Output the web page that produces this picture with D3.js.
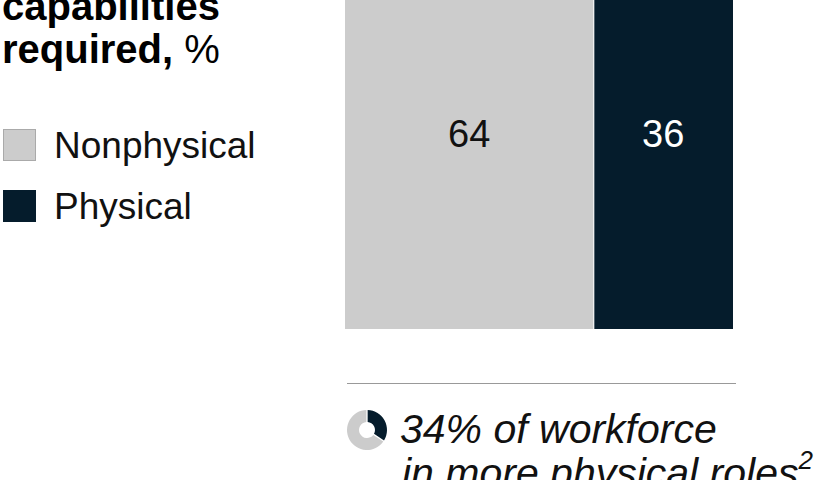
<!DOCTYPE html>
<html>
<head>
<meta charset="utf-8">
<script src="https://cdn.jsdelivr.net/npm/d3@7"></script>
<style>
  body { margin: 0; background: #fff; }
  svg { display: block; font-family: "Liberation Sans", Arial, sans-serif; }
</style>
</head>
<body>
<div id="plot"></div>
<script>
// data
const categories = ["Nonphysical", "Physical"];
const values = [64, 36];
const workforceShare = [34, 66];   // physical, other
const titleLines = ["capabilities", "required,"];
const noteLines = ["34% of workforce", "in more physical roles"];

const w = 829, h = 480;
const colors = ["#cccccc", "#051c2c"];
const colorScale = d3.scaleOrdinal().domain(categories).range(colors);

const svg = d3.select("div#plot")
  .append("svg")
  .attr("width", w)
  .attr("height", h);

// title
const title = svg.append("g").attr("id", "title");
title.append("text")
  .attr("x", 2).attr("y", 20)
  .attr("font-size", 40).attr("font-weight", "bold")
  .text(titleLines[0]);
const t2 = title.append("text")
  .attr("x", 2).attr("y", 63)
  .attr("font-size", 40);
t2.append("tspan").attr("font-weight", "bold").text(titleLines[1]);
t2.append("tspan").text(" %");

// legend
const legend = svg.append("g").attr("id", "legend")
  .selectAll("g")
  .data(categories)
  .enter()
  .append("g")
  .attr("transform", (d, i) => `translate(3, ${129 + i * 61})`);

legend.append("rect")
  .attr("x", 0.5).attr("y", 0.5)
  .attr("width", 32).attr("height", 31)
  .attr("fill", d => colorScale(d))
  .attr("stroke", (d, i) => i == 0 ? "#aaaaaa" : colorScale(d));

legend.append("text")
  .attr("x", 51).attr("y", 29)
  .attr("font-size", 37)
  .attr("fill", "#111")
  .text(d => d);

// stacked bar
const xScale = d3.scaleLinear().domain([0, 100]).range([345, 733]);
const starts = [0, ...d3.cumsum(values)].slice(0, values.length);
const barTop = -65, barBottom = 329;

const bars = svg.append("g").attr("id", "bars")
  .selectAll("g")
  .data(values)
  .enter()
  .append("g");

bars.append("rect")
  .attr("x", (d, i) => xScale(starts[i]) + (i > 0 ? 1 : 0))
  .attr("y", barTop)
  .attr("width", (d, i) => xScale(starts[i] + d) - xScale(starts[i]) - (i > 0 ? 1 : 0))
  .attr("height", barBottom - barTop)
  .attr("fill", (d, i) => colors[i]);

bars.append("text")
  .attr("x", (d, i) => xScale(starts[i] + d / 2))
  .attr("y", 147)
  .attr("text-anchor", "middle")
  .attr("font-size", 38)
  .attr("fill", (d, i) => i == 0 ? "#111" : "#fff")
  .text(d => d);

// separator
svg.append("line")
  .attr("x1", 347).attr("x2", 736)
  .attr("y1", 383.5).attr("y2", 383.5)
  .attr("stroke", "#999")
  .attr("stroke-width", 1);

// donut
const pie = d3.pie().sort(null).padAngle(0.06);
const arc = d3.arc().innerRadius(8).outerRadius(20);
svg.append("g")
  .attr("id", "donut")
  .attr("transform", "translate(367, 430)")
  .selectAll("path")
  .data(pie(workforceShare))
  .enter()
  .append("path")
  .attr("d", arc)
  .attr("fill", (d, i) => i == 0 ? colors[1] : colors[0]);

// note
svg.append("text")
  .attr("x", 400).attr("y", 443)
  .attr("font-size", 41).attr("font-style", "italic")
  .attr("fill", "#111")
  .text(noteLines[0]);
const n2 = svg.append("text")
  .attr("x", 402).attr("y", 487)
  .attr("font-size", 41).attr("font-style", "italic")
  .attr("fill", "#111");
n2.append("tspan").text(noteLines[1]);
n2.append("tspan").attr("dy", -18).attr("font-size", 26).text("2");
</script>
</body>
</html>
